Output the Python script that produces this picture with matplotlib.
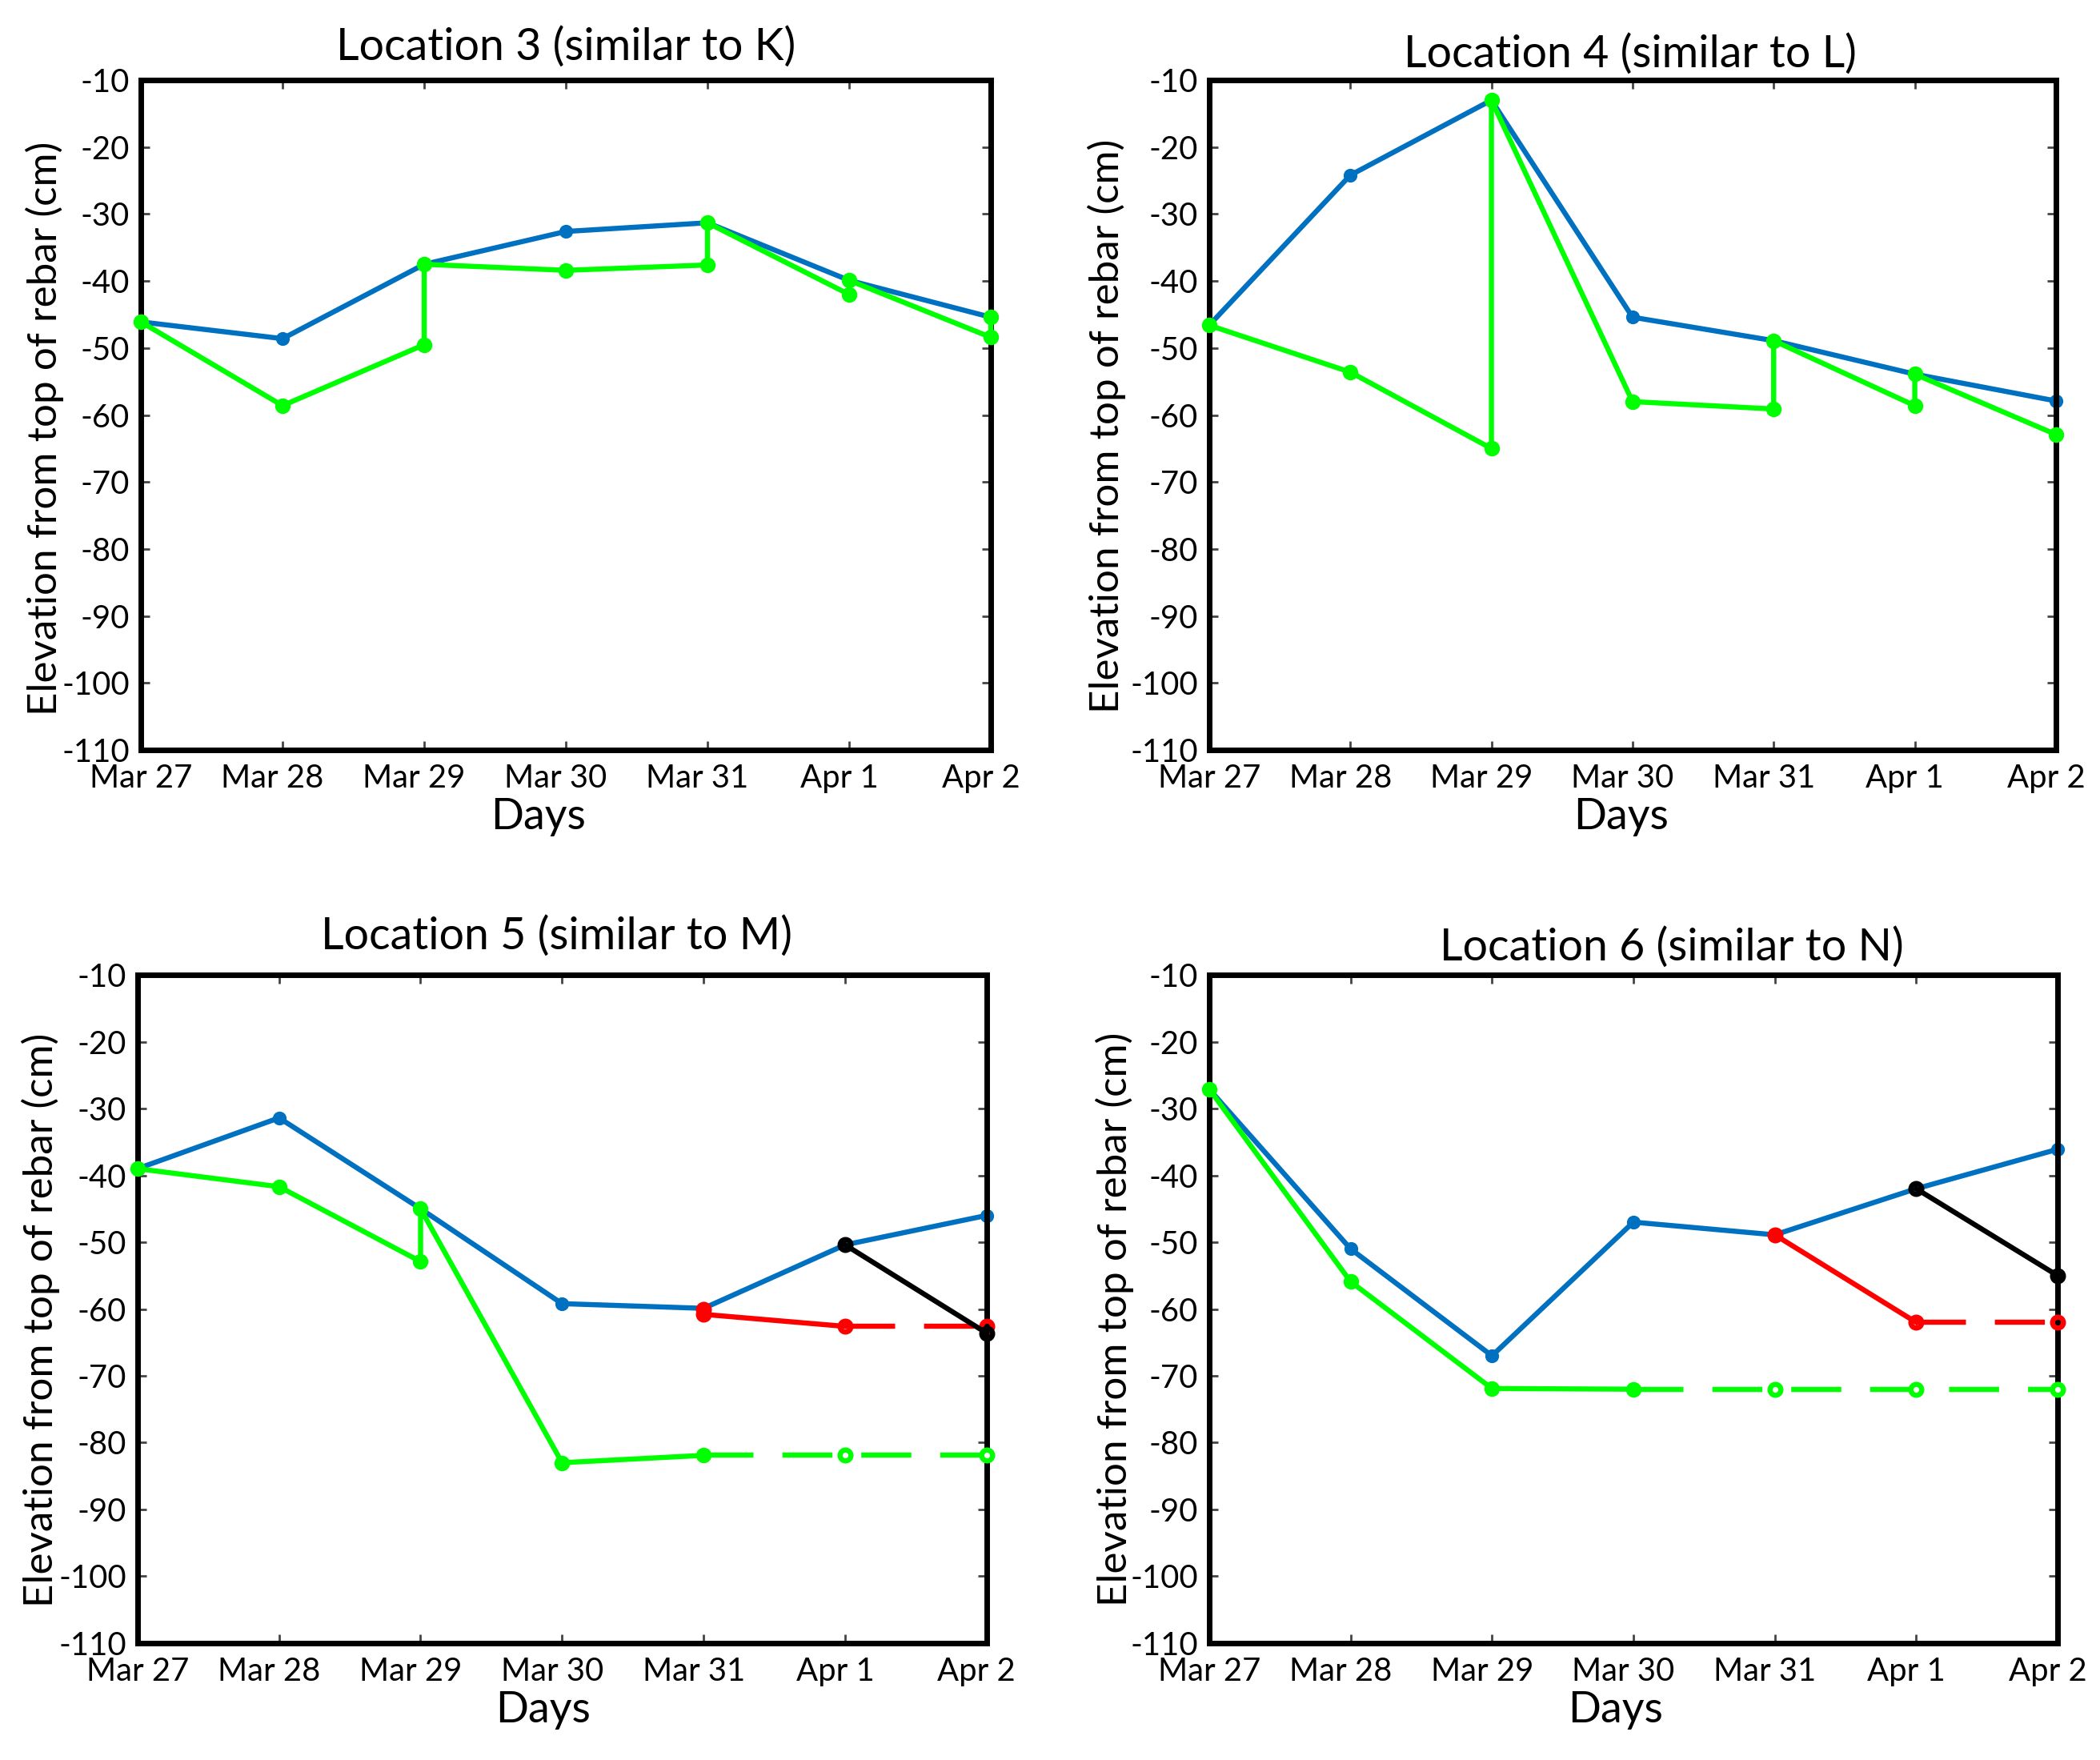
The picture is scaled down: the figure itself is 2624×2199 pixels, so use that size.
import matplotlib
matplotlib.use("Agg")
import matplotlib.pyplot as plt
from matplotlib.transforms import ScaledTranslation

plt.rcParams['font.family'] = ['Lato', 'DejaVu Sans']
plt.rcParams['axes.unicode_minus'] = False
plt.rcParams['lines.scale_dashes'] = False

# ---------------- data ----------------
days = ['Mar 27', 'Mar 28', 'Mar 29', 'Mar 30', 'Mar 31', 'Apr 1', 'Apr 2']
day_idx = [0, 1, 2, 3, 4, 5, 6]
yticks = [-110, -100, -90, -80, -70, -60, -50, -40, -30, -20, -10]

titles = ['Location 3 (similar to K)', 'Location 4 (similar to L)',
          'Location 5 (similar to M)', 'Location 6 (similar to N)']

# Location 3
loc3_blue = [-46.1, -48.6, -37.5, -32.6, -31.3, -39.9, -45.4]
loc3_green_day = [0, 1, 2, 2, 3, 4, 4, 5, 5, 6, 6]
loc3_green = [-46.1, -58.6, -49.5, -37.5, -38.4, -37.6, -31.3, -42.0, -39.9, -48.4, -45.4]

# Location 4
loc4_blue = [-46.6, -24.2, -13.0, -45.4, -48.9, -53.9, -57.9]
loc4_green_day = [0, 1, 2, 2, 3, 4, 4, 5, 5, 6]
loc4_green = [-46.6, -53.6, -65.0, -13.0, -58.0, -59.1, -48.9, -58.6, -53.9, -62.9]

# Location 5
loc5_blue = [-39.0, -31.4, -45.0, -59.2, -59.9, -50.4, -46.0]
loc5_green_day = [0, 1, 2, 2, 3, 4]
loc5_green = [-39.0, -41.7, -52.9, -45.0, -83.0, -81.9]
loc5_green_proj_day = [4, 5, 6]
loc5_green_proj = [-81.9, -81.9, -81.9]
loc5_red_day = [4, 4, 5]
loc5_red = [-60.0, -60.8, -62.6]
loc5_red_proj_day = [5, 6]
loc5_red_proj = [-62.6, -62.6]
loc5_black_day = [5, 6]
loc5_black = [-50.4, -63.6]

# Location 6
loc6_blue = [-27.1, -51.0, -67.0, -47.0, -48.9, -42.0, -36.1]
loc6_green_day = [0, 1, 2, 3]
loc6_green = [-27.1, -55.9, -71.9, -72.0]
loc6_green_proj_day = [3, 4, 5, 6]
loc6_green_proj = [-72.0, -72.0, -72.0, -72.0]
loc6_red_day = [4, 5]
loc6_red = [-48.9, -62.0]
loc6_red_proj_day = [5, 6]
loc6_red_proj = [-62.0, -62.0]
loc6_black_day = [5, 6]
loc6_black = [-42.0, -55.0]

# ---------------- styling ----------------
BLUE = '#0070C0'
GREEN = '#00FF00'
RED = '#FF0000'
BLACK = '#000000'
LW = 2.3
DASH = (22.5, 13.0)

fig = plt.figure(figsize=(13.12, 10.995), dpi=200)
rects = [
    [0.0671, 0.5739, 0.4047, 0.3806],
    [0.5758, 0.5739, 0.4032, 0.3806],
    [0.0655, 0.0664, 0.4043, 0.3797],
    [0.5758, 0.0664, 0.4040, 0.3797],
]
title_pad = [9, 6, 11.5, 6.5]
title_x = [0.5, 0.497, 0.494, 0.545]
xlabel_x = [0.468, 0.486, 0.478, 0.479]
ylabel_x = [-0.113, -0.121, -0.114, -0.111]
ylabel_y = [0.48, 0.484, 0.483, 0.485]

axes = [fig.add_axes(r) for r in rects]


def plot_blue(ax, vals):
    ax.plot(day_idx, vals, color=BLUE, lw=LW, marker='o', ms=5.2, mew=1,
            mfc=BLUE, mec=BLUE, clip_on=False, zorder=2)


def plot_green(ax, d, vals):
    ax.plot(d, vals, color=GREEN, lw=LW, marker='o', ms=6.0, mew=1,
            mfc=GREEN, mec=GREEN, clip_on=False, zorder=3)


def plot_proj(ax, d, vals, color, z, face):
    ax.plot(d, vals, color=color, lw=LW, dashes=DASH, marker='o', ms=4.9,
            mew=2.3, mfc=face, mec=color, markevery=slice(1, None),
            clip_on=False, zorder=z)


def plot_hollow(ax, d, vals, color, z):
    ax.plot(d, vals, color=color, lw=LW, marker='o', ms=4.9, mew=2.3,
            mfc='none', mec=color, clip_on=False, zorder=z)


# Location 3
plot_blue(axes[0], loc3_blue)
plot_green(axes[0], loc3_green_day, loc3_green)
# Location 4
plot_blue(axes[1], loc4_blue)
plot_green(axes[1], loc4_green_day, loc4_green)
# Location 5
plot_blue(axes[2], loc5_blue)
plot_green(axes[2], loc5_green_day, loc5_green)
plot_proj(axes[2], loc5_green_proj_day, loc5_green_proj, GREEN, 3, 'white')
plot_hollow(axes[2], loc5_red_day, loc5_red, RED, 4)
plot_proj(axes[2], loc5_red_proj_day, loc5_red_proj, RED, 4, 'none')
plot_hollow(axes[2], loc5_black_day, loc5_black, BLACK, 5)
# Location 6
plot_blue(axes[3], loc6_blue)
plot_green(axes[3], loc6_green_day, loc6_green)
plot_proj(axes[3], loc6_green_proj_day, loc6_green_proj, GREEN, 3, 'white')
plot_hollow(axes[3], loc6_red_day, loc6_red, RED, 4)
plot_proj(axes[3], loc6_red_proj_day, loc6_red_proj, RED, 4, 'none')
plot_hollow(axes[3], loc6_black_day, loc6_black, BLACK, 5)

shift = ScaledTranslation(-4.5 / 72, 0, fig.dpi_scale_trans)

for i, ax in enumerate(axes):
    ax.set_xlim(0, 6)
    ax.set_ylim(-110, -10)
    ax.set_yticks(yticks)
    ax.set_xticks(day_idx)
    ax.set_xticklabels(days)
    ax.tick_params(direction='in', length=4, width=1, color='#444444',
                   top=True, right=True, labelsize=14.4, pad=5)
    ax.tick_params(axis='x', pad=6)
    for lab in ax.get_xticklabels()[1:]:
        lab.set_transform(lab.get_transform() + shift)
    for sp in ax.spines.values():
        sp.set_linewidth(2.5)
        sp.set_color('black')
    ax.set_title(titles[i], fontsize=20, pad=title_pad[i], x=title_x[i])
    ax.set_xlabel('Days', fontsize=19.4)
    ax.xaxis.set_label_coords(xlabel_x[i], -0.100)
    ax.xaxis.label.set_va('center')
    ax.set_ylabel('Elevation from top of rebar (cm)', fontsize=18.4)
    ax.yaxis.set_label_coords(ylabel_x[i], ylabel_y[i])
    ax.yaxis.label.set_va('center')

fig.savefig('out.png', dpi=200)
